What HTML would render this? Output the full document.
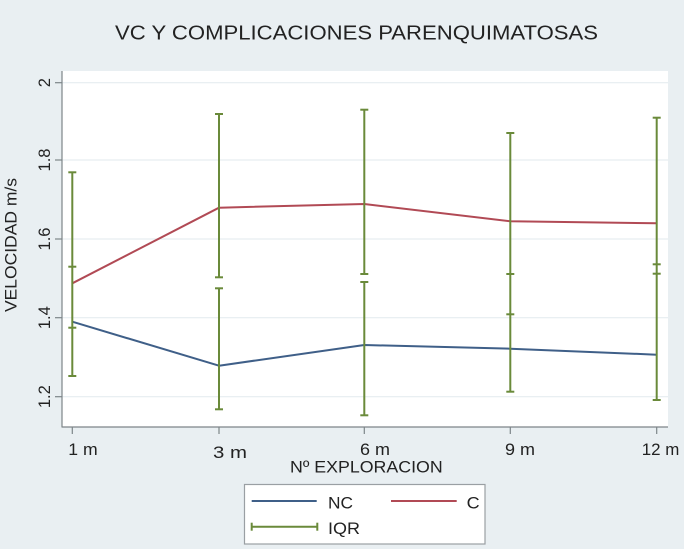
<!DOCTYPE html>
<html>
<head>
<meta charset="utf-8">
<style>
html,body{margin:0;padding:0;background:#e9eff2;}
svg{display:block;}
text{font-family:"Liberation Sans",Arial,sans-serif;fill:#222;}
</style>
</head>
<body>
<svg width="684" height="549" viewBox="0 0 684 549" xmlns="http://www.w3.org/2000/svg">
  <rect x="0" y="0" width="684" height="549" fill="#e9eff2"/>
  <!-- title -->
  <text x="115" y="39.5" font-size="20" textLength="483" lengthAdjust="spacingAndGlyphs">VC Y COMPLICACIONES PARENQUIMATOSAS</text>

  <!-- plot region -->
  <rect x="62" y="71" width="606" height="356" fill="#ffffff"/>
  <!-- gridlines -->
  <g stroke="#e6edf0" stroke-width="1.2">
    <line x1="62" x2="668" y1="82.7" y2="82.7"/>
    <line x1="62" x2="668" y1="160" y2="160"/>
    <line x1="62" x2="668" y1="239" y2="239"/>
    <line x1="62" x2="668" y1="317.7" y2="317.7"/>
    <line x1="62" x2="668" y1="396.7" y2="396.7"/>
  </g>
  <!-- axes -->
  <g stroke="#7d8589" stroke-width="1.2" fill="none">
    <line x1="62" y1="71" x2="62" y2="427.5"/>
    <line x1="62" y1="427" x2="668" y2="427"/>
    <!-- y ticks -->
    <line x1="55" x2="62" y1="82.7" y2="82.7"/>
    <line x1="55" x2="62" y1="160" y2="160"/>
    <line x1="55" x2="62" y1="239" y2="239"/>
    <line x1="55" x2="62" y1="317.7" y2="317.7"/>
    <line x1="55" x2="62" y1="396.7" y2="396.7"/>
    <!-- x ticks -->
    <line x1="72.3" x2="72.3" y1="427" y2="434"/>
    <line x1="219" x2="219" y1="427" y2="434"/>
    <line x1="364.3" x2="364.3" y1="427" y2="434"/>
    <line x1="510.3" x2="510.3" y1="427" y2="434"/>
    <line x1="656.7" x2="656.7" y1="427" y2="434"/>
  </g>

  <!-- y tick labels -->
  <g font-size="16.5" text-anchor="middle">
    <text x="50" y="82.7" transform="rotate(-90 50 82.7)">2</text>
    <text x="50" y="160" transform="rotate(-90 50 160)">1.8</text>
    <text x="50" y="239" transform="rotate(-90 50 239)">1.6</text>
    <text x="50" y="317.7" transform="rotate(-90 50 317.7)">1.4</text>
    <text x="50" y="396.7" transform="rotate(-90 50 396.7)">1.2</text>
  </g>
  <text x="16.5" y="245" font-size="16.5" text-anchor="middle" transform="rotate(-90 16.5 245)" textLength="134" lengthAdjust="spacingAndGlyphs">VELOCIDAD m/s</text>

  <!-- x tick labels -->
  <g font-size="17">
    <text x="68.3" y="455" textLength="29.4" lengthAdjust="spacingAndGlyphs">1 m</text>
    <text x="213" y="458" textLength="34" lengthAdjust="spacingAndGlyphs">3 m</text>
    <text x="360" y="455" textLength="30" lengthAdjust="spacingAndGlyphs">6 m</text>
    <text x="505" y="455" textLength="30" lengthAdjust="spacingAndGlyphs">9 m</text>
    <text x="641.7" y="455" textLength="37.6" lengthAdjust="spacingAndGlyphs">12 m</text>
  </g>
  <text x="290" y="472.7" font-size="17" textLength="152.7" lengthAdjust="spacingAndGlyphs">Nº EXPLORACION</text>

  <!-- series lines -->
  <polyline fill="none" stroke="#b14a55" stroke-width="2" stroke-linejoin="round"
    points="72.3,283.3 219,207.7 364.3,204 510.3,221.3 656.7,223.3"/>
  <polyline fill="none" stroke="#3f5f88" stroke-width="2" stroke-linejoin="round"
    points="72.3,321.7 219,365.7 364.3,345 510.3,348.7 656.7,354.7"/>

  <!-- IQR error bars -->
  <g stroke="#6a8a3a" stroke-width="2" fill="none">
    <!-- 1m -->
    <line x1="72.3" x2="72.3" y1="172.3" y2="376"/>
    <line x1="68.3" x2="76.3" y1="172.3" y2="172.3"/>
    <line x1="68.3" x2="76.3" y1="266.7" y2="266.7"/>
    <line x1="68.3" x2="76.3" y1="327.7" y2="327.7"/>
    <line x1="68.3" x2="76.3" y1="376" y2="376"/>
    <!-- 3m -->
    <line x1="219" x2="219" y1="114" y2="277.3"/>
    <line x1="219" x2="219" y1="288.3" y2="409.3"/>
    <line x1="215" x2="223" y1="114" y2="114"/>
    <line x1="215" x2="223" y1="277.3" y2="277.3"/>
    <line x1="215" x2="223" y1="288.3" y2="288.3"/>
    <line x1="215" x2="223" y1="409.3" y2="409.3"/>
    <!-- 6m -->
    <line x1="364.3" x2="364.3" y1="109.7" y2="274"/>
    <line x1="364.3" x2="364.3" y1="282" y2="415.3"/>
    <line x1="360.3" x2="368.3" y1="109.7" y2="109.7"/>
    <line x1="360.3" x2="368.3" y1="274" y2="274"/>
    <line x1="360.3" x2="368.3" y1="282" y2="282"/>
    <line x1="360.3" x2="368.3" y1="415.3" y2="415.3"/>
    <!-- 9m -->
    <line x1="510.3" x2="510.3" y1="133" y2="391.7"/>
    <line x1="506.3" x2="514.3" y1="133" y2="133"/>
    <line x1="506.3" x2="514.3" y1="274" y2="274"/>
    <line x1="506.3" x2="514.3" y1="314.3" y2="314.3"/>
    <line x1="506.3" x2="514.3" y1="391.7" y2="391.7"/>
    <!-- 12m -->
    <line x1="656.7" x2="656.7" y1="117.7" y2="400"/>
    <line x1="652.7" x2="660.7" y1="117.7" y2="117.7"/>
    <line x1="652.7" x2="660.7" y1="264.3" y2="264.3"/>
    <line x1="652.7" x2="660.7" y1="273.7" y2="273.7"/>
    <line x1="652.7" x2="660.7" y1="400" y2="400"/>
  </g>

  <!-- legend -->
  <rect x="244.5" y="484.5" width="240.5" height="59.5" fill="#ffffff" stroke="#9a9fa3" stroke-width="1.2"/>
  <line x1="251.7" x2="316.7" y1="501" y2="501" stroke="#3f5f88" stroke-width="2"/>
  <line x1="391" x2="456.7" y1="501" y2="501" stroke="#b14a55" stroke-width="2"/>
  <g stroke="#6a8a3a" stroke-width="2">
    <line x1="251.7" x2="317.3" y1="526.7" y2="526.7"/>
    <line x1="251.7" x2="251.7" y1="522.7" y2="530.7"/>
    <line x1="317.3" x2="317.3" y1="522.7" y2="530.7"/>
  </g>
  <g font-size="17">
    <text x="328" y="508.5" textLength="25" lengthAdjust="spacingAndGlyphs">NC</text>
    <text x="466.7" y="508.5" textLength="13" lengthAdjust="spacingAndGlyphs">C</text>
    <text x="328" y="534" textLength="32" lengthAdjust="spacingAndGlyphs">IQR</text>
  </g>
</svg>
</body>
</html>
